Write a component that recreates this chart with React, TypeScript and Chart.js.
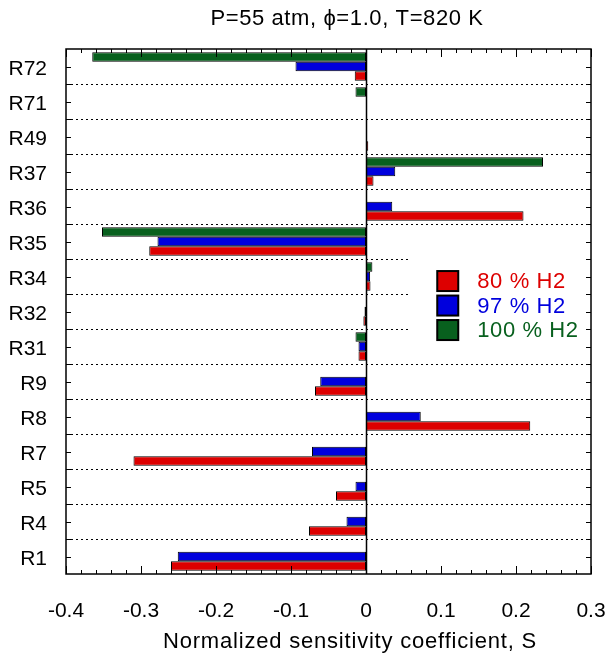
import { useEffect, useRef } from "react";
import { Chart, registerables } from "chart.js";

Chart.register(...registerables);

// Reactions, top to bottom
const reactions = ["R72", "R71", "R49", "R37", "R36", "R35", "R34", "R32", "R31", "R9", "R8", "R7", "R5", "R4", "R1"];

// Normalized sensitivity coefficients per mixture
const h2_80 = [-0.015, 0.001, 0.003, 0.010, 0.210, -0.289, 0.006, -0.0035, -0.010, -0.068, 0.219, -0.310, -0.040, -0.076, -0.260];
const h2_97 = [-0.094, 0.001, 0.0005, 0.039, 0.035, -0.278, 0.0055, -0.002, -0.010, -0.061, 0.073, -0.072, -0.014, -0.026, -0.251];
const h2_100 = [-0.365, -0.014, 0.0005, 0.236, 0.001, -0.352, 0.0085, 0.001, -0.014, null, null, null, null, null, null];

const seriesNames = ["80 % H2", "97 % H2", "100 % H2"];

const xTickValues = [-0.4, -0.3, -0.2, -0.1, 0, 0.1, 0.2, 0.3];
const xTickLabels = ["-0.4", "-0.3", "-0.2", "-0.1", "0", "0.1", "0.2", "0.3"];

const titleText = "P=55 atm, \u03d5=1.0, T=820 K";
const xTitle = "Normalized sensitivity coefficient, S";

const RED = "#dd0000";
const BLUE = "#0000dd";
const GREEN = "#08601e";
const FONT = "'Liberation Sans', Arial, sans-serif";
const FS = 21;

const framePlugin = {
  id: "frame",
  beforeDatasetsDraw(chart: any) {
    const { ctx, chartArea: a, scales } = chart;
    const ys = scales.y;
    const xs = scales.x;
    ctx.save();
    // dotted separators between reactions
    ctx.strokeStyle = "#000";
    ctx.lineWidth = 1;
    ctx.setLineDash([2, 3]);
    for (let i = 1; i < reactions.length; i++) {
      const yy = Math.round((ys.getPixelForValue(i - 1) + ys.getPixelForValue(i)) / 2) + 0.5;
      ctx.beginPath();
      ctx.moveTo(a.left, yy);
      ctx.lineTo(a.right, yy);
      ctx.stroke();
    }
    ctx.setLineDash([]);
    // legend backdrop
    const lx = xs.getPixelForValue(0.056);
    ctx.fillStyle = "#fff";
    ctx.fillRect(lx, ys.getPixelForValue(5.3), a.right - lx - 1, ys.getPixelForValue(7.8) - ys.getPixelForValue(5.3));
    ctx.restore();
  },
  afterDatasetsDraw(chart: any) {
    const { ctx, chartArea: a, scales } = chart;
    const xs = scales.x;
    const ys = scales.y;
    ctx.save();
    ctx.strokeStyle = "#000";
    // zero line
    const x0 = Math.round(xs.getPixelForValue(0)) + 0.5;
    ctx.lineWidth = 1.5;
    ctx.beginPath();
    ctx.moveTo(x0, a.top);
    ctx.lineTo(x0, a.bottom);
    ctx.stroke();
    // frame
    ctx.lineWidth = 1.5;
    ctx.strokeRect(a.left, a.top, a.right - a.left, a.bottom - a.top);
    // x ticks, top and bottom, pointing inward
    ctx.lineWidth = 1;
    for (let i = -20; i <= 15; i++) {
      const px = Math.round(xs.getPixelForValue(i / 50)) + 0.5;
      const len = i % 5 === 0 ? 8 : 4;
      ctx.beginPath();
      ctx.moveTo(px, a.bottom);
      ctx.lineTo(px, a.bottom - len);
      ctx.moveTo(px, a.top);
      ctx.lineTo(px, a.top + len);
      ctx.stroke();
    }
    // y ticks at centers and boundaries, both sides
    const n = reactions.length * 2;
    for (let k = 1; k < n; k++) {
      const py = Math.round(a.top + (k * (a.bottom - a.top)) / n) + 0.5;
      ctx.beginPath();
      ctx.moveTo(a.left, py);
      ctx.lineTo(a.left + 5, py);
      ctx.moveTo(a.right, py);
      ctx.lineTo(a.right - 5, py);
      ctx.stroke();
    }
    // legend
    const colors = [RED, BLUE, GREEN];
    const bx = xs.getPixelForValue(0.095);
    const rowH = (ys.getPixelForValue(7) - ys.getPixelForValue(6)) * 0.7;
    const y0 = ys.getPixelForValue(6.13);
    ctx.font = `22px ${FONT}`;
    (ctx as any).letterSpacing = "0.6px";
    ctx.textBaseline = "middle";
    ctx.textAlign = "left";
    for (let i = 0; i < 3; i++) {
      const cy = y0 + i * rowH;
      ctx.fillStyle = colors[i];
      ctx.fillRect(bx, cy - 10, 21, 20);
      ctx.lineWidth = 2;
      ctx.strokeStyle = "#000";
      ctx.strokeRect(bx, cy - 10, 21, 20);
      ctx.fillText(seriesNames[i], bx + 40, cy + 1);
    }
    // title and axis title
    ctx.fillStyle = "#000";
    ctx.textAlign = "center";
    ctx.font = `22px ${FONT}`;
    ctx.fillText(titleText, 347, 19);
    (ctx as any).letterSpacing = "0.8px";
    ctx.fillText(xTitle, 350, 642);
    (ctx as any).letterSpacing = "0px";
    ctx.restore();
  },
};

export default function App() {
  const ref = useRef<HTMLCanvasElement | null>(null);

  useEffect(() => {
    if (!ref.current) return;
    const bar = (label: string, data: (number | null)[], color: string) => ({
      label,
      data,
      backgroundColor: color,
      borderColor: "#000",
      borderWidth: 1,
      borderSkipped: false,
      categoryPercentage: 0.82,
      barPercentage: 1,
    });
    const chart = new Chart(ref.current, {
      type: "bar",
      data: {
        labels: reactions,
        datasets: [
          bar(seriesNames[2], h2_100, GREEN),
          bar(seriesNames[1], h2_97, BLUE),
          bar(seriesNames[0], h2_80, RED),
        ],
      },
      options: {
        indexAxis: "y",
        animation: false,
        responsive: false,
        devicePixelRatio: 1,
        layout: { padding: { top: 49, right: 18, left: 0, bottom: 0 } },
        plugins: { legend: { display: false }, tooltip: { enabled: false } },
        scales: {
          x: {
            type: "linear",
            min: -0.4,
            max: 0.3,
            afterBuildTicks: (s: any) => {
              s.ticks = xTickValues.map((v) => ({ value: v }));
            },
            afterFit: (s: any) => {
              s.height = 80;
              s.paddingLeft = 0;
              s.paddingRight = 0;
            },
            grid: { display: false, drawTicks: false },
            border: { display: false },
            ticks: {
              padding: 25,
              color: "#000",
              font: { family: FONT, size: FS },
              maxRotation: 0,
              callback: (_v: any, i: number) => xTickLabels[i],
            },
            title: { display: false },
          },
          y: {
            afterFit: (s: any) => {
              s.width = 66;
              s.paddingTop = 0;
              s.paddingBottom = 0;
            },
            grid: { display: false, drawTicks: false },
            border: { display: false },
            ticks: {
              padding: 19,
              labelOffset: 3,
              color: "#000",
              font: { family: FONT, size: FS },
            },
          },
        },
      },
      plugins: [framePlugin],
    });
    return () => chart.destroy();
  }, []);

  return (
    <div style={{ position: "fixed", left: 0, top: 0, width: 609, height: 654, background: "#fff" }}>
      <canvas ref={ref} width={609} height={654} />
    </div>
  );
}
